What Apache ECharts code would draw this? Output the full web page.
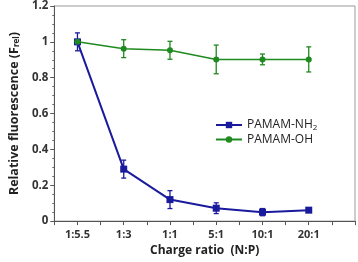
<!DOCTYPE html>
<html><head><meta charset="utf-8">
<script src="https://cdn.jsdelivr.net/npm/echarts@6/dist/echarts.min.js"></script>
<style>html,body{margin:0;padding:0;background:#fff}#c{width:358px;height:262px}</style>
</head><body><div id="c"></div>
<script>
const categories = ['1:5.5','1:3','1:1','5:1','10:1','20:1'];
const nh2Values = [1.0, 0.29, 0.12, 0.072, 0.05, 0.061];
const nh2Errors = [0.05, 0.05, 0.05, 0.03, 0.02, 0.005];
const ohValues = [1.0, 0.962, 0.953, 0.902, 0.902, 0.902];
const ohErrors = [0.0, 0.05, 0.05, 0.08, 0.03, 0.07];
const yTicks = [0, 0.2, 0.4, 0.6, 0.8, 1, 1.2];

const BLUE = '#1a1a9c', GREEN = '#1f8a1f';
function pts(vals){ return vals.map((v,i)=>[i+1, v]); }
function errs(vals, e){ return vals.map((v,i)=>[i+1, v-e[i], v+e[i]]); }
function errSeries(vals, e, color){
  return {
    type:'custom', silent:true, z:3,
    data: errs(vals,e),
    renderItem(params, api){
      const x = api.value(0);
      const lo = api.coord([x, api.value(1)]);
      const hi = api.coord([x, api.value(2)]);
      if (Math.abs(hi[1]-lo[1]) < 2) return null;
      const w = 2.5;
      const st = {stroke: color, lineWidth: 1.3};
      return {type:'group', children:[
        {type:'line', shape:{x1:lo[0],y1:lo[1],x2:hi[0],y2:hi[1]}, style:st},
        {type:'line', shape:{x1:lo[0]-w,y1:lo[1],x2:lo[0]+w,y2:lo[1]}, style:st},
        {type:'line', shape:{x1:hi[0]-w,y1:hi[1],x2:hi[0]+w,y2:hi[1]}, style:st}
      ]};
    }
  };
}
const chart = echarts.init(document.getElementById('c'));
const fontFam = '"Open Sans", "DejaVu Sans", sans-serif';
chart.setOption({
  animation:false,
  textStyle:{fontFamily:fontFam},
  grid:{left:38, right:2, top:5, bottom:36, show:true, borderColor:'#999', borderWidth:1},
  legend:{
    orient:'vertical', left:210, top:114, itemWidth:26, itemHeight:8, itemGap:2,
    data:['PAMAM-NH2','PAMAM-OH'],
    textStyle:{fontSize:12, color:'#222', fontFamily:fontFam,
      rich:{t:{fontSize:12,color:'#222'}, s:{fontSize:8,color:'#222',verticalAlign:'bottom',padding:[5,0,0,0]}}},
    formatter(name){ return name==='PAMAM-NH2' ? '{t|PAMAM-NH}{s|2}' : '{t|PAMAM-OH}'; }
  },
  xAxis:{
    type:'value', min:0.5, max:7, interval:0.5,
    name:'Charge ratio  (N:P)', nameLocation:'middle', nameGap:23,
    nameTextStyle:{fontSize:12, fontWeight:'bold', color:'#222'},
    axisLine:{lineStyle:{color:'#555', width:1}},
    axisTick:{show:true, length:4, lineStyle:{color:'#555'}},
    splitLine:{show:false},
    axisLabel:{fontSize:11, fontWeight:'bold', color:'#333', margin:8,
      formatter(v){ const i = Math.round(v)-1; return (Math.abs(v-Math.round(v))<1e-6 && i>=0 && i<categories.length) ? categories[i] : ''; }}
  },
  yAxis:{
    type:'value', min:0, max:1.2, interval:0.2,
    name:'{a|Relative fluorescence (F}{b|rel}{a|)}', nameLocation:'middle', nameGap:20,
    nameTextStyle:{rich:{a:{fontSize:12.5, fontWeight:'bold', color:'#222'}, b:{fontSize:8, fontWeight:'bold', color:'#222', padding:[5,0,0,0]}}},
    axisLine:{show:true, lineStyle:{color:'#555', width:1}},
    axisTick:{show:true, length:4, lineStyle:{color:'#555'}},
    minorTick:{show:true, splitNumber:4, length:2, lineStyle:{color:'#666'}},
    splitLine:{show:false},
    axisLabel:{fontSize:11.5, fontWeight:'bold', color:'#333', margin:6,
      formatter(v){ const t = yTicks.find(k=>Math.abs(k-v)<1e-6); return t===undefined?'':String(t); }}
  },
  series:[
    {name:'PAMAM-NH2', type:'line', data:pts(nh2Values), symbol:'rect', symbolSize:7,
     itemStyle:{color:BLUE}, lineStyle:{color:BLUE, width:2}, z:2},
    {name:'PAMAM-OH', type:'line', data:pts(ohValues), symbol:'circle', symbolSize:6,
     itemStyle:{color:GREEN}, lineStyle:{color:GREEN, width:1.5}, z:4},
    errSeries(ohValues, ohErrors, GREEN),
    errSeries(nh2Values, nh2Errors, BLUE)
  ]
});
</script></body></html>
